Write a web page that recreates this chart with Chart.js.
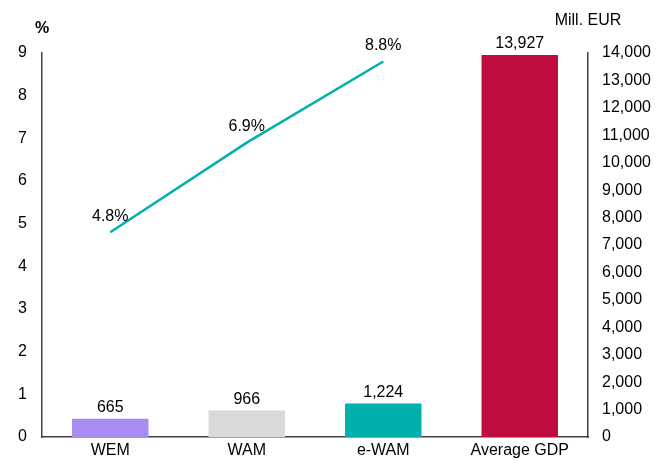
<!DOCTYPE html>
<html><head><meta charset="utf-8">
<script src="https://cdn.jsdelivr.net/npm/chart.js@4/dist/chart.umd.min.js"></script>
<style>html,body{margin:0;padding:0;background:#fff}#wrap{width:658px;height:461px}</style>
</head><body><div id="wrap"><canvas id="c" width="658" height="461"></canvas></div>
<script>
const categories = ["WEM", "WAM", "e-WAM", "Average GDP"];
const barValues = [665, 966, 1224, 13927];
const lineValues = [4.8, 6.9, 8.8, null];
const lineLabels = ["4.8%", "6.9%", "8.8%", ""];
const barColors = ["#A78BF0", "#D9D9D9", "#00B0AA", "#C00D3D"];
const leftTitle = "%";
const rightTitle = "Mill. EUR";

const FONT = "'Liberation Sans', Arial, sans-serif";
const fmt = v => v.toLocaleString('en-US');

const labelPlugin = {
  id: 'labels',
  afterDatasetsDraw(chart) {
    const ctx = chart.ctx;
    ctx.save();
    ctx.fillStyle = '#000';
    ctx.font = "16px " + FONT;
    ctx.textAlign = 'center';
    ctx.textBaseline = 'bottom';
    const barMeta = chart.getDatasetMeta(1);
    barMeta.data.forEach((el, i) => {
      ctx.fillText(fmt(barValues[i]), el.x, el.y - 3);
    });
    const lineMeta = chart.getDatasetMeta(0);
    lineMeta.data.forEach((el, i) => {
      if (lineValues[i] == null) return;
      ctx.fillText(lineLabels[i], el.x, el.y - 8);
    });
    ctx.font = "bold 16px " + FONT;
    ctx.textAlign = 'center';
    ctx.textBaseline = 'alphabetic';
    ctx.fillText(leftTitle, 42, 33);
    ctx.font = "16px " + FONT;
    ctx.fillText(rightTitle, 588, 25);
    ctx.restore();
  }
};

new Chart(document.getElementById('c'), {
  data: {
    labels: categories,
    datasets: [
      {
        type: 'line', data: lineValues, yAxisID: 'y', borderColor: '#00B0AA',
        borderWidth: 2.5, pointRadius: 0, tension: 0, order: 0
      },
      {
        type: 'bar', data: barValues, yAxisID: 'y2', backgroundColor: barColors,
        barPercentage: 0.56, categoryPercentage: 1.0, order: 1
      }
    ]
  },
  options: {
    responsive: false, animation: false,
    layout: { padding: { top: 53, right: 0, left: 0, bottom: 0 } },
    plugins: { legend: { display: false }, tooltip: { enabled: false } },
    scales: {
      x: {
        grid: { display: false, drawTicks: false },
        border: { display: true, color: '#404040', width: 1.5 },
        ticks: { color: '#000', font: { size: 16, family: FONT }, padding: 4, maxRotation: 0 },
        afterFit(s) { s.height = 24; }
      },
      y: {
        position: 'left', min: 0, max: 9,
        grid: { display: false, drawOnChartArea: false, drawTicks: true, tickLength: 5, color: '#404040' },
        border: { display: true, color: '#404040', width: 1.5 },
        ticks: { stepSize: 1, color: '#000', font: { size: 16, family: FONT }, padding: 10 },
        afterFit(s) { s.width = 42; }
      },
      y2: {
        position: 'right', min: 0, max: 14000,
        grid: { display: false, drawOnChartArea: false, drawTicks: true, tickLength: 5, color: '#404040' },
        border: { display: true, color: '#404040', width: 1.5 },
        ticks: { stepSize: 1000, color: '#000', font: { size: 16, family: FONT }, padding: 9, callback: v => fmt(v) },
        afterFit(s) { s.width = 70; }
      }
    }
  },
  plugins: [labelPlugin]
});
</script></body></html>
